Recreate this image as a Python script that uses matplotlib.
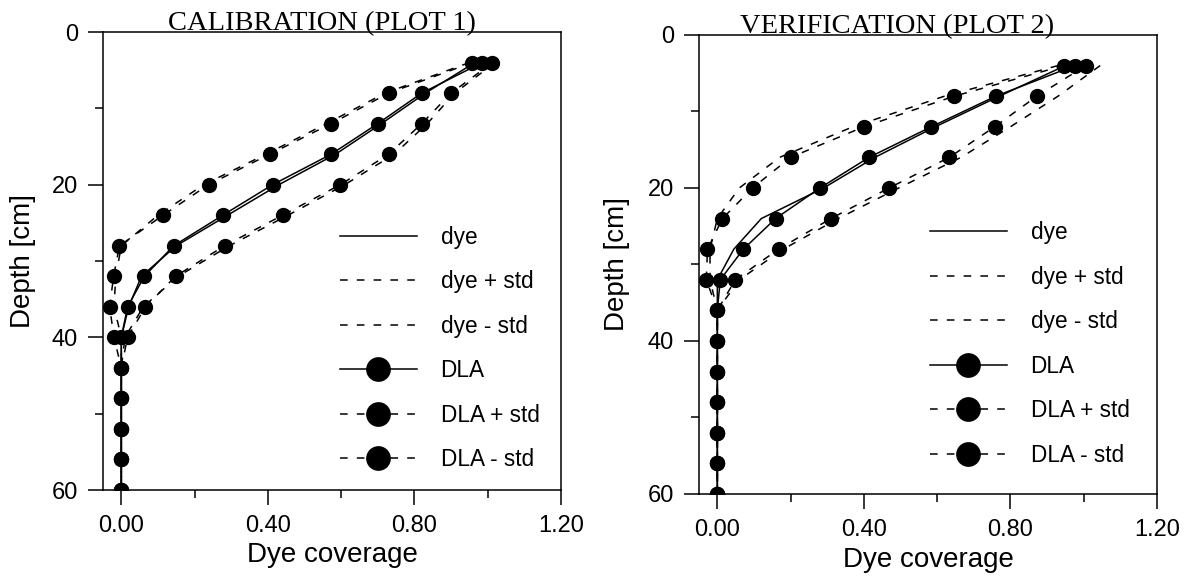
import numpy as np
import matplotlib
matplotlib.use('Agg')
import matplotlib.pyplot as plt
from matplotlib.ticker import MultipleLocator, FormatStrFormatter

plt.rcParams['font.family'] = ['Liberation Sans', 'DejaVu Sans']

# depth of the sampling layers [cm]
depth = [4, 8, 12, 16, 20, 24, 28, 32, 36, 40, 44, 48, 52, 56, 60]

# plot 1 : calibration
cal_dye = [0.965, 0.83, 0.71, 0.585, 0.43, 0.29, 0.15, 0.055, 0.02, 0.0, 0, 0, 0, 0, 0]
cal_dye_p = [1.02, 0.91, 0.835, 0.745, 0.61, 0.455, 0.295, 0.155, 0.06, 0.01, 0, 0, 0, 0, 0]
cal_dye_m = [0.95, 0.72, 0.56, 0.395, 0.225, 0.10, 0.0, -0.015, -0.02, 0.0, 0, 0, 0, 0, 0]
cal_dla = [0.985, 0.82, 0.70, 0.573, 0.413, 0.277, 0.143, 0.063, 0.017, 0.0, 0, 0, 0, 0, 0]
cal_dla_p = [1.013, 0.90, 0.82, 0.73, 0.598, 0.44, 0.282, 0.148, 0.066, 0.017, 0, 0, 0, 0, 0]
cal_dla_m = [0.958, 0.73, 0.573, 0.405, 0.238, 0.114, -0.005, -0.021, -0.032, -0.02, 0, 0, 0, 0, 0]

# plot 2 : verification
ver_dye = [0.95, 0.77, 0.595, 0.43, 0.29, 0.12, 0.045, 0.0, 0, 0, 0, 0, 0, 0, 0]
ver_dye_p = [1.045, 0.93, 0.80, 0.665, 0.495, 0.33, 0.18, 0.06, 0, 0, 0, 0, 0, 0, 0]
ver_dye_m = [0.93, 0.62, 0.37, 0.17, 0.06, 0.0, -0.02, -0.02, 0, 0, 0, 0, 0, 0, 0]
ver_dla = [0.976, 0.76, 0.584, 0.414, 0.28, 0.159, 0.071, 0.008, 0, 0, 0, 0, 0, 0, 0]
ver_dla_p = [1.006, 0.872, 0.757, 0.633, 0.469, 0.31, 0.167, 0.049, 0, 0, 0, 0, 0, 0, 0]
ver_dla_m = [0.946, 0.647, 0.40, 0.20, 0.096, 0.014, -0.027, -0.03, 0, 0, 0, 0, 0, 0, 0]

titles = ["CALIBRATION (PLOT 1)", "VERIFICATION (PLOT 2)"]

fig = plt.figure(figsize=(11.88, 5.76), dpi=100)
ax1 = fig.add_axes([0.0867, 0.1493, 0.3855, 0.7951])
ax2 = fig.add_axes([0.5884, 0.1424, 0.3855, 0.7969])

lw = 1.1
dash = (5, 6)
ms = 10


def draw(ax, dye, dye_p, dye_m, dla, dla_p, dla_m, title, tx, leg_x, leg_y, ylab_x):
    ax.plot(dye, depth, '-', color='k', lw=lw, label='dye')
    ax.plot(dye_p, depth, '--', color='k', lw=lw, dashes=dash, label='dye + std')
    ax.plot(dye_m, depth, '--', color='k', lw=lw, dashes=dash, label='dye - std')
    ax.plot(dla, depth, '-', color='k', lw=lw, marker='o', ms=ms, label='DLA')
    ax.plot(dla_p, depth, '--', color='k', lw=lw, dashes=dash, marker='o', ms=ms,
            label='DLA + std')
    ax.plot(dla_m, depth, '--', color='k', lw=lw, dashes=dash, marker='o', ms=ms,
            label='DLA - std')

    ax.set_xlim(-0.05, 1.2)
    ax.set_ylim(60, 0)
    ax.xaxis.set_major_locator(MultipleLocator(0.4))
    ax.xaxis.set_minor_locator(MultipleLocator(0.2))
    ax.xaxis.set_major_formatter(FormatStrFormatter('%.2f'))
    ax.yaxis.set_major_locator(MultipleLocator(20))
    ax.yaxis.set_minor_locator(MultipleLocator(10))
    ax.tick_params(which='major', direction='out', length=11, width=1.1,
                   labelsize=17, pad=7)
    ax.tick_params(which='minor', direction='out', length=5.5, width=1.1)
    for sp in ax.spines.values():
        sp.set_linewidth(1.1)

    ax.set_xlabel("Dye coverage", fontsize=20, va='center')
    ax.set_ylabel("Depth [cm]", fontsize=20, va='center')
    ax.xaxis.set_label_coords(0.5, -0.143)
    ax.yaxis.set_label_coords(ylab_x, 0.5)

    ax.text(tx, 1.004, title, transform=ax.transAxes, ha='center', va='baseline',
            fontsize=20.5, family='Liberation Serif')

    ax.legend(loc='upper left', bbox_to_anchor=(leg_x, leg_y), frameon=False,
              fontsize=16.3, handlelength=3.4, handletextpad=1.05,
              labelspacing=0.95, borderpad=0, borderaxespad=0, markerscale=1.68)


draw(ax1, cal_dye, cal_dye_p, cal_dye_m, cal_dla, cal_dla_p, cal_dla_m,
     titles[0], 0.479, 0.517, 0.577, -0.175)
draw(ax2, ver_dye, ver_dye_p, ver_dye_m, ver_dla, ver_dla_p, ver_dla_m,
     titles[1], 0.432, 0.504, 0.594, -0.179)

plt.savefig("out.png", dpi=100)
